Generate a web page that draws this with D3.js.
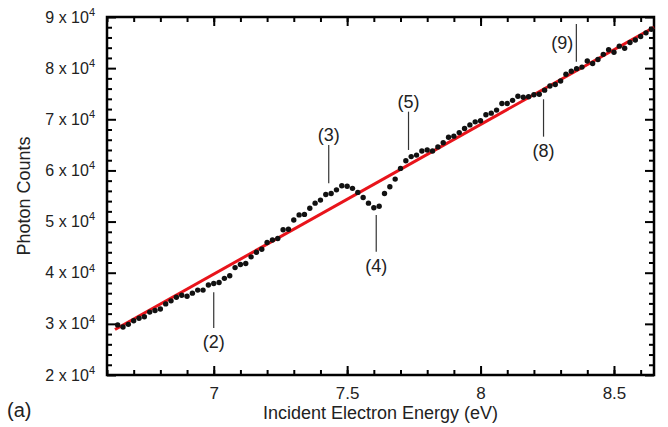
<!DOCTYPE html>
<html><head><meta charset="utf-8">
<script src="https://cdn.jsdelivr.net/npm/d3@7"></script>
<style>
body{margin:0;background:#fff;}
svg{display:block;font-family:"Liberation Sans",Arial,Helvetica,sans-serif;}
</style></head><body>
<svg id="chart" width="668" height="427"></svg>
<script>
// ---- data ----
const energies = [
 6.64,6.66,6.68,6.70,6.72,6.74,6.76,6.78,6.80,6.82,
 6.84,6.86,6.88,6.90,6.92,6.94,6.96,6.98,7.00,7.02,
 7.04,7.06,7.08,7.10,7.12,7.14,7.16,7.18,7.20,7.22,
 7.24,7.26,7.28,7.30,7.32,7.34,7.36,7.38,7.40,7.42,
 7.44,7.46,7.48,7.50,7.52,7.54,7.56,7.58,7.60,7.62,
 7.64,7.66,7.68,7.70,7.72,7.74,7.76,7.78,7.80,7.82,
 7.84,7.86,7.88,7.90,7.92,7.94,7.96,7.98,8.00,8.02,
 8.04,8.06,8.08,8.10,8.12,8.14,8.16,8.18,8.20,8.22,
 8.24,8.26,8.28,8.30,8.32,8.34,8.36,8.38,8.40,8.42,
 8.44,8.46,8.48,8.50,8.52,8.54,8.56,8.58,8.60,8.62,
 8.64
];
const counts = [
 29800,29400,29900,30600,31100,31400,32300,32600,32900,33900,
 34500,35200,35600,35400,36000,36600,36600,37600,37900,38100,
 38900,39400,41000,41600,41800,43100,44000,44600,45900,46400,
 46700,48400,48500,50300,51300,51400,52600,53600,54200,55300,
 55500,56200,57000,56900,56500,55700,54700,53600,52700,53000,
 55500,56800,58300,60400,61900,62700,63000,63800,64000,63800,
 64600,65400,66500,66700,67400,68200,68900,69500,69700,70900,
 71200,71800,73100,73100,73700,74500,74300,74400,74800,74900,
 75700,76500,76800,77500,78800,79400,79900,80200,81400,80900,
 81700,82700,83600,83100,84300,83900,85000,85500,86200,86900,
 87600
];
const fitEnergies = [6.63, 8.65];
const fitCounts = [28900, 88000];

const xMajorTicks = [7, 7.5, 8, 8.5];
const xMinorTicks = [6.6,6.7,6.8,6.9,7.0,7.1,7.2,7.3,7.4,7.5,7.6,7.7,7.8,7.9,8.0,8.1,8.2,8.3,8.4,8.5,8.6];
const yMajorTicks = [20000,30000,40000,50000,60000,70000,80000,90000];
const yTickMantissa = ["2","3","4","5","6","7","8","9"];
const yTickExponent = "4";
const yMinorTicks = [22000,24000,26000,28000,32000,34000,36000,38000,42000,44000,46000,48000,
  52000,54000,56000,58000,62000,64000,66000,68000,72000,74000,76000,78000,82000,84000,86000,88000];

const annLabels = ["(2)","(3)","(4)","(5)","(8)","(9)"];
const annEnergy = [7.0, 7.431, 7.609, 7.73, 8.236, 8.359];
const annTop    = [36200, 64970, 51290, 71490, 73910, 88640];
const annBottom = [29200, 57480, 44110, 64000, 66600, 81260];
const annSide   = ["below","above","below","above","below","left"];

const xTitle = "Incident Electron Energy (eV)";
const yTitle = "Photon Counts";
const panelLabel = "(a)";

// ---- layout ----
const W = 668, H = 427;
const L = 107, R = 654, T = 17, B = 375;
const svg = d3.select("#chart");
const x = d3.scaleLinear().domain([6.6, 8.65]).range([L, R]);
const y = d3.scaleLinear().domain([20000, 90000]).range([B, T]);
const textColor = "#222";

function styleAxis(g){
  g.select(".domain").remove();
  g.selectAll(".tick line").attr("stroke","#000").attr("stroke-width",2);
  g.selectAll(".tick text").attr("fill",textColor);
}

// minor ticks
svg.append("g").attr("transform",`translate(0,${B})`)
  .call(d3.axisBottom(x).tickValues(xMinorTicks).tickSize(-5).tickFormat("")).call(styleAxis);
svg.append("g").attr("transform",`translate(0,${T})`)
  .call(d3.axisTop(x).tickValues(xMinorTicks).tickSize(-5).tickFormat("")).call(styleAxis);
svg.append("g").attr("transform",`translate(${L},0)`)
  .call(d3.axisLeft(y).tickValues(yMinorTicks).tickSize(-5).tickFormat("")).call(styleAxis);
svg.append("g").attr("transform",`translate(${R},0)`)
  .call(d3.axisRight(y).tickValues(yMinorTicks).tickSize(-5).tickFormat("")).call(styleAxis);

// major ticks
const gxb = svg.append("g").attr("transform",`translate(0,${B})`)
  .call(d3.axisBottom(x).tickValues(xMajorTicks).tickSize(-9).tickPadding(12).tickFormat(d3.format("")))
  .call(styleAxis);
gxb.selectAll(".tick text").attr("font-size",17).attr("font-family","Liberation Sans, Arial, sans-serif");
svg.append("g").attr("transform",`translate(0,${T})`)
  .call(d3.axisTop(x).tickValues(xMajorTicks).tickSize(-9).tickFormat("")).call(styleAxis);
const gyl = svg.append("g").attr("transform",`translate(${L},0)`)
  .call(d3.axisLeft(y).tickValues(yMajorTicks).tickSize(-9).tickPadding(12).tickFormat(""))
  .call(styleAxis);
gyl.selectAll(".tick text").each(function(d,i){
  const t = d3.select(this).attr("font-size",16).attr("font-family","Liberation Sans, Arial, sans-serif");
  t.text(null);
  t.append("tspan").text(yTickMantissa[i] + " x 10");
  t.append("tspan").attr("font-size",11).attr("dy","-0.62em").text(yTickExponent);
});
svg.append("g").attr("transform",`translate(${R},0)`)
  .call(d3.axisRight(y).tickValues(yMajorTicks).tickSize(-9).tickFormat("")).call(styleAxis);

// frame
svg.append("rect").attr("x",L).attr("y",T).attr("width",R-L).attr("height",B-T)
  .attr("fill","none").attr("stroke","#000").attr("stroke-width",2.5);

// fit line
const fit = fitEnergies.map((e,i)=>[e, fitCounts[i]]);
svg.append("path").datum(fit)
  .attr("d", d3.line().x(d=>x(d[0])).y(d=>y(d[1])))
  .attr("stroke","#e8141b").attr("stroke-width",3).attr("fill","none");

// data points
svg.append("g").selectAll("circle").data(energies.map((e,i)=>[e,counts[i]])).join("circle")
  .attr("cx",d=>x(d[0])).attr("cy",d=>y(d[1])).attr("r",2.7).attr("fill","#111");

// annotations
const ag = svg.append("g");
annLabels.forEach((lab,i)=>{
  const xx = x(annEnergy[i]);
  const y1 = y(annTop[i]), y2 = y(annBottom[i]);
  ag.append("line").attr("x1",xx).attr("x2",xx).attr("y1",y1).attr("y2",y2)
    .attr("stroke","#333").attr("stroke-width",1.2);
  const t = ag.append("text").text(lab).attr("font-size",18).attr("fill",textColor);
  if (annSide[i]==="below") t.attr("x",xx).attr("y",y2+20).attr("text-anchor","middle");
  else if (annSide[i]==="above") t.attr("x",xx).attr("y",y1-4).attr("text-anchor","middle");
  else t.attr("x",xx-3).attr("y",(y1+y2)/2+6).attr("text-anchor","end");
});

// titles
svg.append("text").text(xTitle).attr("x",(L+R)/2).attr("y",419)
  .attr("text-anchor","middle").attr("font-size",18).attr("fill",textColor);
svg.append("text").text(yTitle)
  .attr("transform",`translate(30,${(T+B)/2}) rotate(-90)`)
  .attr("text-anchor","middle").attr("font-size",18).attr("fill",textColor);
svg.append("text").text(panelLabel).attr("x",7).attr("y",417)
  .attr("font-size",20).attr("fill",textColor);
</script>
</body></html>
